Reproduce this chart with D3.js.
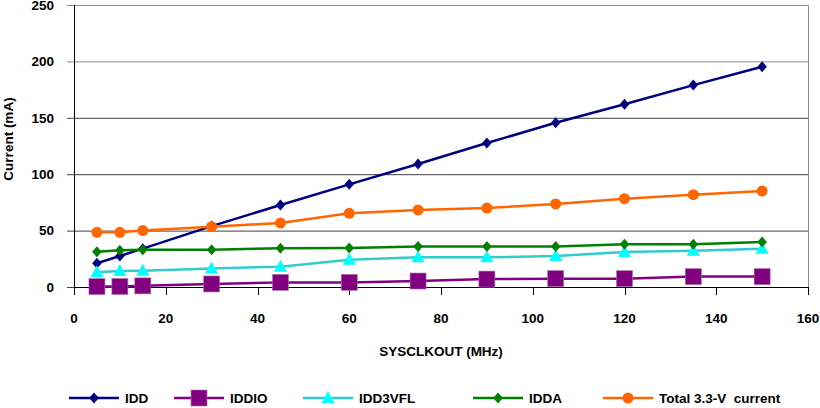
<!DOCTYPE html>
<html><head><meta charset="utf-8">
<script src="https://cdn.jsdelivr.net/npm/d3@7"></script>
<style>body{margin:0;background:#fff}svg{display:block;font-family:"Liberation Sans",Arial,sans-serif;font-weight:bold}text{white-space:pre}</style>
</head><body><svg id="c" width="820" height="408"></svg>
<script>
const freq = [5,10,15,30,45,60,75,90,105,120,135,150];
const idd = [21,27.5,34,54,72.7,91,109,127.6,145.6,162,179,195.3];
const iddio = [0.4,0.5,1,2.7,4.1,4.1,5.3,7,7.4,7.4,9.2,9.2];
const idd3vfl = [13,14.2,14.5,16.5,18,24.2,26.3,26.3,27.5,31,32.2,34];
const idda = [31.3,32.5,33,33,34.3,34.6,36,36,36,38,38,40];
const total = [48.5,48.5,50,53.5,56.7,65.3,68.3,70,73.6,78.3,81.8,85];
const xTicks = [0,20,40,60,80,100,120,140,160];
const yTicks = [0,50,100,150,200,250];
const seriesNames = ["IDD","IDDIO","IDD3VFL","IDDA","Total 3.3-V  current"];

const series = [
  {name:seriesNames[0], values:idd, line:"#000080", fill:"#000080", marker:"diamond"},
  {name:seriesNames[1], values:iddio, line:"#800080", fill:"#800080", marker:"square"},
  {name:seriesNames[2], values:idd3vfl, line:"#33CCCC", fill:"#00FFFF", marker:"triangle"},
  {name:seriesNames[3], values:idda, line:"#008000", fill:"#008000", marker:"diamond"},
  {name:seriesNames[4], values:total, line:"#FF6600", fill:"#FF6600", marker:"circle"}
];

const svg = d3.select("#c");
const L=74, R=808, T=5, B=287;
const x = d3.scaleLinear().domain([0,160]).range([L,R]);
const y = d3.scaleLinear().domain([0,250]).range([B,T]);

// gridlines
svg.append("g").selectAll("line").data(yTicks).join("line")
  .attr("x1",L-7).attr("x2",R).attr("y1",d=>y(d)+0.5).attr("y2",d=>y(d)+0.5)
  .attr("stroke",d=>d>=200?"#8c8c8c":"#404040").attr("stroke-width",1);
// right border
svg.append("line").attr("x1",R+0.5).attr("x2",R+0.5).attr("y1",T).attr("y2",B)
  .attr("stroke","#8c8c8c");
// left axis
svg.append("line").attr("x1",L+0.5).attr("x2",L+0.5).attr("y1",T).attr("y2",B+1).attr("stroke","#000");
// bottom axis
svg.append("line").attr("x1",L).attr("x2",R+1).attr("y1",B+0.5).attr("y2",B+0.5).attr("stroke","#000");
svg.append("g").selectAll("line").data(xTicks).join("line")
  .attr("x1",d=>Math.round(x(d))+0.5).attr("x2",d=>Math.round(x(d))+0.5)
  .attr("y1",B).attr("y2",B+8).attr("stroke","#000");

// tick labels
svg.append("g").selectAll("text").data(yTicks).join("text")
  .attr("x",54).attr("y",d=>Math.max(y(d),5.5)).attr("dy","0.36em").attr("text-anchor","end")
  .attr("font-size","13.5px").text(d=>d);
svg.append("g").selectAll("text").data(xTicks).join("text")
  .attr("x",d=>x(d)).attr("y",322.5).attr("text-anchor","middle")
  .attr("font-size","13.5px").text(d=>d);

// axis titles
svg.append("text").attr("transform","translate(13,139) rotate(-90)")
  .attr("text-anchor","middle").attr("font-size","13.5px").text("Current (mA)");
svg.append("text").attr("x",441).attr("y",356).attr("text-anchor","middle")
  .attr("font-size","13.5px").text("SYSCLKOUT (MHz)");

function marker(g, type, fill){
  if(type==="diamond"){
    g.append("path").attr("d","M0,-5.5L4.8,0L0,5.5L-4.8,0Z").attr("fill",fill);
  } else if(type==="square"){
    g.append("rect").attr("x",-8).attr("y",-8).attr("width",16).attr("height",16)
      .attr("fill",fill).attr("stroke","#b070b0").attr("stroke-width",0.6);
  } else if(type==="triangle"){
    g.append("path").attr("d","M0,-7L6.5,5L-6.5,5Z").attr("fill",fill);
  } else {
    g.append("circle").attr("r",5.5).attr("fill",fill);
  }
}

const line = d3.line().x(d=>x(d[0])).y(d=>y(d[1]));
series.forEach(s=>{
  const pts = freq.map((f,i)=>[f,s.values[i]]);
  const g = svg.append("g");
  g.append("path").attr("d",line(pts)).attr("fill","none")
    .attr("stroke",s.line).attr("stroke-width",2.5).attr("stroke-linejoin","round");
  pts.forEach(p=>{
    const mg = g.append("g").attr("transform",`translate(${x(p[0])},${y(p[1])})`);
    marker(mg, s.marker, s.fill);
  });
});

// legend
const legX = [69,174,303,473,603];
const ly = 398;
series.forEach((s,i)=>{
  const g = svg.append("g").attr("transform",`translate(${legX[i]},${ly})`);
  g.append("line").attr("x1",0).attr("x2",50).attr("y1",0).attr("y2",0)
    .attr("stroke",s.line).attr("stroke-width",2.5);
  const mg = g.append("g").attr("transform","translate(25,0)");
  marker(mg, s.marker, s.fill);
  g.append("text").attr("x",56).attr("y",5).attr("font-size","13.5px").attr("fill","#000").text(s.name);
});
</script></body></html>
